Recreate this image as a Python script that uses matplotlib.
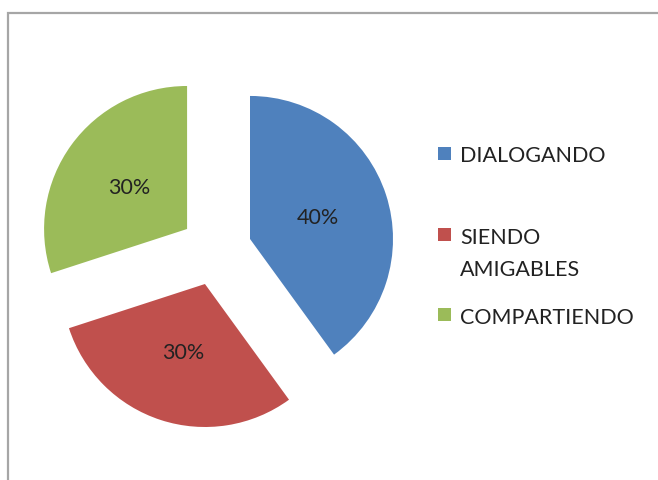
import matplotlib.pyplot as plt
import matplotlib.patches as mpatches

labels = ['DIALOGANDO', 'SIENDO\nAMIGABLES', 'COMPARTIENDO']
values = [40, 30, 30]
colors = ['#4F81BD', '#C0504D', '#9BBB59']

W, H = 658, 481
fig = plt.figure(figsize=(W / 100, H / 100), dpi=100)
plt.rcParams['font.family'] = ['Lato', 'DejaVu Sans']

# chart area border (runs off the right and bottom edge)
fig.patches.append(mpatches.Rectangle((8 / W, -0.1), 1.2, (H - 14) / H + 0.1,
                                      transform=fig.transFigure, fill=False,
                                      edgecolor='#a6a6a6', linewidth=1.6))

# pie centred at (216, 251) px, radius 143 px
R = 143
L = 1.3
cx, cy = 216, H - 251
ax = fig.add_axes([(cx - L * R) / W, (cy - L * R) / H, 2 * L * R / W, 2 * L * R / H])
ax.pie(values, colors=colors, startangle=90, counterclock=False,
       explode=[0.25, 0.25, 0.25], autopct='%1.0f%%', pctdistance=0.5,
       textprops={'fontsize': 15.5, 'color': '#222222'},
       wedgeprops={'linewidth': 0})
ax.set_xlim(-L, L)
ax.set_ylim(-L, L)
ax.axis('off')

# legend (baseline of the last line; 33 px between lines)
ys = [155, 236, 316]
for lab, col, y in zip(labels, colors, ys):
    extra = lab.count('\n') * 33
    fig.patches.append(mpatches.Rectangle((438 / W, (H - y - 6) / H), 13 / W, 13 / H,
                                          transform=fig.transFigure,
                                          facecolor=col, edgecolor='none'))
    fig.text(460 / W, (H - y - 7.5 - extra) / H, lab, ha='left', va='baseline',
             fontsize=15.5, color='#222222', linespacing=1.78)

fig.savefig('out.png', dpi=100)
